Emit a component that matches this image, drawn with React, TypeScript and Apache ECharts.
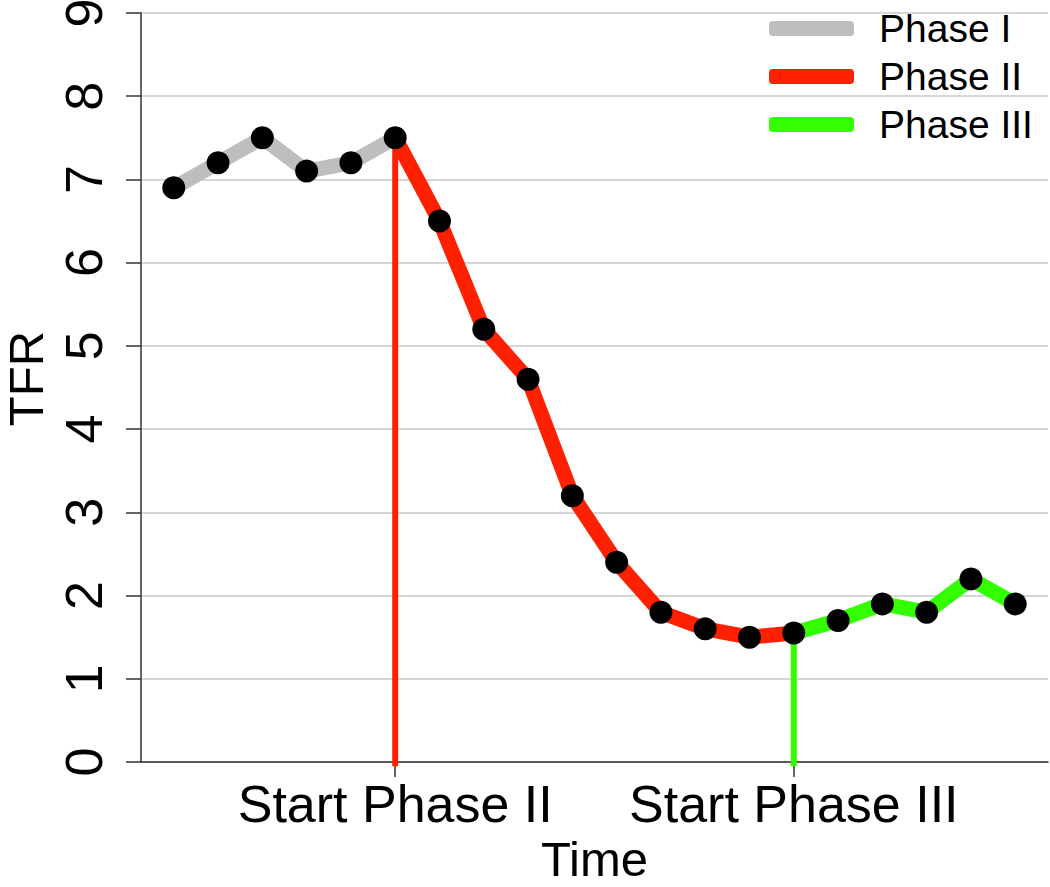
import React, { useEffect, useRef } from "react";
import * as echarts from "echarts";

const times = [1, 2, 3, 4, 5, 6, 7, 8, 9, 10, 11, 12, 13, 14, 15, 16, 17, 18, 19, 20];
const tfr = [6.9, 7.2, 7.5, 7.1, 7.2, 7.5, 6.5, 5.2, 4.6, 3.2, 2.4, 1.8, 1.6, 1.5, 1.55, 1.7, 1.9, 1.8, 2.2, 1.9];
const phaseNames = ["Phase I", "Phase II", "Phase III"];
const phaseColors = ["#bebebe", "#ff2000", "#33ff00"];
// index ranges (inclusive) of each phase
const phaseStartIdx = [0, 5, 14];
const phaseEndIdx = [5, 14, 19];
const xTickValues = [6, 15];
const xTickLabels = ["Start Phase II", "Start Phase III"];

const FONT = "'Liberation Sans', Arial, Helvetica, sans-serif";

export default function App() {
  const ref = useRef<HTMLDivElement>(null);

  useEffect(() => {
    if (!ref.current) return;
    const chart = echarts.init(ref.current, undefined, { renderer: "svg" });

    const pts = times.map((t, i) => [t, tfr[i]]);

    const phaseSeries = phaseNames.map((name, k) => ({
      name,
      type: "line",
      data: pts.slice(phaseStartIdx[k], phaseEndIdx[k] + 1),
      showSymbol: false,
      symbol: "none",
      color: phaseColors[k],
      lineStyle: { color: phaseColors[k], width: 15, cap: "round", join: "round" },
      z: 2,
    }));

    const vertSeries = xTickValues.map((x, k) => {
      const idx = times.indexOf(x);
      return {
        name: xTickLabels[k],
        type: "line",
        data: [
          [x, tfr[idx]],
          [x, -0.05],
        ],
        showSymbol: false,
        symbol: "none",
        clip: false,
        lineStyle: { color: phaseColors[k + 1], width: 6 },
        z: 3,
      };
    });

    chart.setOption({
      animation: false,
      textStyle: { fontFamily: FONT },
      grid: { left: 141, right: 2, top: 13, bottom: 125, containLabel: false, outerBoundsMode: "none" },
      legend: {
        data: phaseNames,
        orient: "vertical",
        left: 764,
        top: 4,
        itemWidth: 85,
        itemHeight: 15,
        itemGap: 9,
        icon: "roundRect",
        textStyle: { fontSize: 39, color: "#000", fontFamily: FONT, padding: [0, 0, 0, 20] },
      },
      xAxis: {
        type: "value",
        min: 0.26,
        max: 20.74,
        offset: 4,
        name: "Time",
        nameLocation: "middle",
        nameGap: 70,
        nameTextStyle: { fontSize: 49, lineHeight: 38, color: "#000", fontFamily: FONT },
        axisLine: { show: true, lineStyle: { color: "#333", width: 1.5 } },
        axisTick: { show: true, customValues: xTickValues, length: 15, lineStyle: { color: "#333", width: 1.5 } },
        axisLabel: {
          customValues: xTickValues,
          formatter: (v: number) => xTickLabels[xTickValues.indexOf(v)] ?? "",
          fontSize: 52,
          color: "#000",
          margin: 12,
          fontFamily: FONT,
        },
        splitLine: { show: false },
      },
      yAxis: {
        type: "value",
        min: 0,
        max: 9,
        interval: 1,
        name: "TFR",
        nameLocation: "middle",
        nameGap: 94,
        nameRotate: 90,
        nameTextStyle: { fontSize: 49, lineHeight: 38, color: "#000", fontFamily: FONT, padding: [0, 0, 0, 18] },
        axisLine: { show: true, lineStyle: { color: "#333", width: 1.5 } },
        axisTick: { show: true, length: 15, lineStyle: { color: "#333", width: 1.5 } },
        axisLabel: { rotate: 90, fontSize: 52, color: "#000", margin: 31, fontFamily: FONT },
        splitLine: { show: true, lineStyle: { color: "#c8c8c8", width: 1.5 } },
      },
      series: [
        ...phaseSeries,
        ...vertSeries,
        {
          name: "points",
          type: "scatter",
          data: pts,
          symbol: "circle",
          symbolSize: 23,
          itemStyle: { color: "#000", opacity: 1 },
          z: 5,
        },
      ],
    });

    return () => chart.dispose();
  }, []);

  return (
    <div
      ref={ref}
      style={{ position: "fixed", left: 0, top: 0, width: 1050, height: 887, background: "#fff" }}
    />
  );
}
